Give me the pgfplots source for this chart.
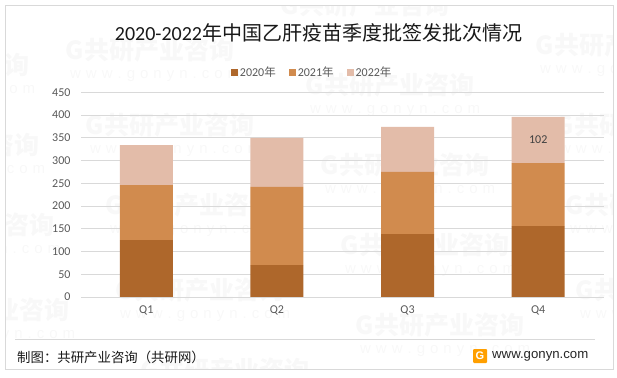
\documentclass[border=0pt]{standalone}
\usepackage{pgfplots}
\pgfplotsset{compat=1.18}
\usepackage{fontspec}
\setmainfont{Carlito}
\newfontfamily\cjk{Noto Sans CJK SC}
\newfontfamily\lib{Liberation Sans}
\definecolor{cA}{HTML}{AE672B}
\definecolor{cB}{HTML}{D18B4E}
\definecolor{cC}{HTML}{E3BCA9}
\definecolor{grd}{HTML}{D9D9D9}
\definecolor{txt}{HTML}{595959}
\begin{document}
\begin{tikzpicture}[x=1pt,y=1pt]
\useasboundingbox (0,0) rectangle (617,377);
\fill[white] (0,0) rectangle (617,377);
% watermarks
\begin{scope}
\clip (5.5,8) rectangle (613,371);
\foreach \x/\y in {150/50,390/85,620/45,170/125,405/165,650/205,425/245,660/290,190/205,200/290,440/325,225/370,640/125,-55/65,-45/145,-30/225,-15/310,365/5}{
  \begin{scope}[shift={(\x,377-\y)},rotate=11,opacity=0.028]
    \node[font=\cjk\bfseries\fontsize{25}{25}\selectfont,black] at (0,0) {\textbf{G}共研产业咨询};
    \node[font=\lib\fontsize{15}{15}\selectfont,black] at (0,-27) {w\,\,w\,\,w\,\,.\,\,g\,\,o\,\,n\,\,y\,\,n\,\,.\,\,c\,\,o\,\,m};
  \end{scope}
}
\end{scope}
\begin{axis}[
  at={(81pt,80pt)}, anchor=south west,
  scale only axis, width=522.5pt, height=204.75pt,
  ybar stacked, bar width=53pt,
  xmin=-0.5, xmax=3.5, ymin=0, ymax=450,
  xtick={0,1,2,3}, xticklabels={Q1,Q2,Q3,Q4},
  ytick={0,50,...,450},
  axis line style={draw=none},
  major tick length=0pt,
  ymajorgrids, grid style={grd,line width=0.9pt},
  /pgf/number format/assume math mode=true,
  tick label style={text=txt,font=\fontsize{12}{12}\selectfont},
  yticklabel style={xshift=-7pt},
  xticklabel style={yshift=-5pt},
  clip=false,
  legend style={at={(axis description cs:0.287,1.098)},anchor=west,
    draw=none,fill=none,inner sep=0pt,outer sep=0pt,
    legend columns=3,
    font=\fontsize{12}{12}\selectfont,text=txt,
    /tikz/every even column/.append style={column sep=11pt}},
  legend image code/.code={\fill[#1] (0pt,-3.5pt) rectangle (7pt,3.5pt);},
]
\addplot[fill=cA,draw=none] coordinates {(0,125) (1,70) (2,138) (3,156)};
\addplot[fill=cB,draw=none] coordinates {(0,121) (1,172) (2,137) (3,138)};
\addplot[fill=cC,draw=none] coordinates {(0,88) (1,108) (2,99) (3,102)};
\legend{2020{\cjk\fontsize{11.5}{12}\selectfont 年},2021{\cjk\fontsize{11.5}{12}\selectfont 年},2022{\cjk\fontsize{11.5}{12}\selectfont 年}}
\end{axis}
\node[text=black!75,font=\fontsize{12}{12}\selectfont] at (538.2,237.5) {102};
% frame
\draw[grd,line width=1pt] (5.5,8) rectangle (613,371);
\draw[grd,line width=0.8pt] (15,38) -- (595,38);
\node[font=\fontsize{20}{20}\selectfont,text=black!90] at (318.5,344) {2020-2022{\cjk 年中国乙肝疫苗季度批签发批次情况}};
\node[anchor=west,font=\cjk\fontsize{13.4}{14}\selectfont,text=black!90,inner sep=0pt] at (17,20) {制图：共研产业咨询（共研网）};
\fill[orange!75!yellow,rounded corners=1pt] (473,14) rectangle (487,28);
\node[white,font=\lib\bfseries\fontsize{11}{11}\selectfont,inner sep=0pt] at (480,21) {G};
\node[anchor=west,font=\lib\fontsize{13.2}{13}\selectfont,text=black!85,inner sep=0pt] at (492,21) {www.gonyn.com};
\end{tikzpicture}
\end{document}
